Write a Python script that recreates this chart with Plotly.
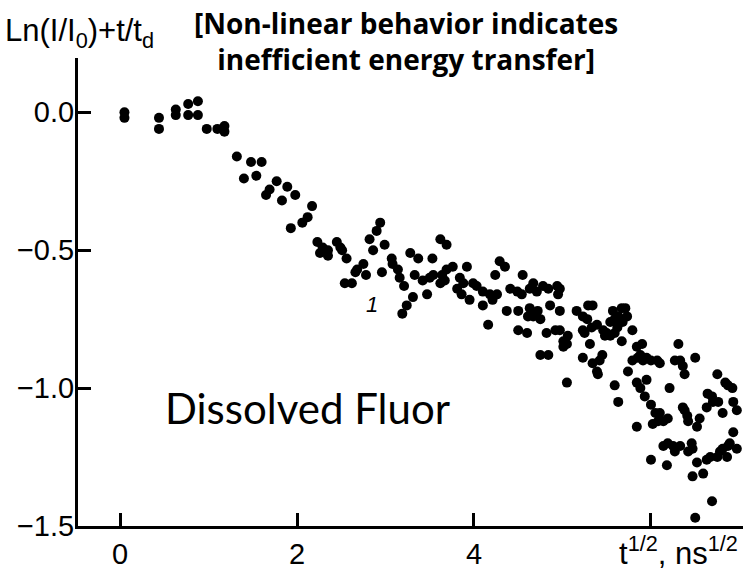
import plotly.graph_objects as go

# Fluorescence decay data: t^(1/2) (ns^1/2) vs Ln(I/I0)+t/td
t_sqrt = [
    0.05, 0.05, 0.44, 0.44, 0.63, 0.63, 0.77, 0.77, 0.88, 0.88,
    0.98, 1.10, 1.18, 1.18, 1.32, 1.48, 1.60, 1.40, 1.54, 1.77,
    1.89, 1.69, 1.65, 1.83, 1.98, 2.17, 2.12, 2.06, 1.93, 2.23,
    2.29, 2.35, 2.26, 2.35, 2.45, 2.51, 2.56, 2.49,
    2.68, 2.75, 2.78, 2.66, 2.54, 2.62, 2.82, 2.90, 2.94, 2.86,
    2.99, 3.07, 3.08, 2.96, 3.14, 3.16, 3.21, 3.28, 3.37, 3.33,
    3.42, 3.31, 3.24, 3.19, 3.47, 3.53, 3.62, 3.69, 3.54, 3.50,
    3.64, 3.69, 3.76, 3.62, 3.67, 3.92, 3.84, 3.88, 3.99, 4.03,
    3.81, 3.86, 3.95, 4.10, 4.18, 4.26, 4.10, 4.21, 4.16, 4.29,
    4.35, 4.24, 4.41, 4.49, 4.54, 4.55, 4.37, 4.50, 4.63, 4.67,
    4.71, 4.78, 4.84, 4.94, 4.95, 4.63, 4.61, 4.67, 4.72, 4.75,
    4.50, 4.60, 4.86, 4.97, 4.82, 4.92, 5.01, 5.06, 5.16, 5.23,
    5.29, 5.25, 4.75, 4.84, 5.01, 5.23,
    4.97, 4.97, 5.05, 5.05, 5.28, 5.34, 5.23, 5.31, 5.33, 5.39,
    5.46, 5.50, 5.54, 5.57, 5.59, 5.63, 5.67, 5.71, 5.73, 5.68,
    5.48, 5.54, 5.59, 5.62, 5.34, 5.39, 5.40, 5.45, 5.42, 5.79,
    5.67, 5.59, 5.63, 5.84, 5.90, 5.88, 5.85, 5.79, 5.74, 5.91,
    5.95, 6.00, 6.07, 6.10, 5.84, 5.88, 5.95, 5.93, 5.84, 6.00,
    6.05, 6.10, 6.02, 6.08, 6.14, 6.19, 6.21, 6.14, 6.19, 6.25,
    6.27, 6.00, 6.18, 6.31, 6.27, 6.33, 6.36, 6.38, 6.36, 6.38,
    6.41, 6.42, 6.50, 6.33, 6.42, 6.46, 6.47, 6.55, 6.52, 6.52,
    6.59, 6.47, 6.69, 6.50, 6.75, 6.64, 6.69, 6.63, 6.70, 6.76,
    6.81, 6.84, 6.87, 6.92, 6.93, 6.93, 6.89, 6.87, 6.81, 6.78,
    6.75, 6.67, 6.63, 6.86, 6.97, 6.97,
]
ln_ratio = [
    0.00, -0.02, -0.02, -0.06, 0.01, -0.01, 0.03, -0.01, 0.04, -0.01,
    -0.06, -0.06, -0.05, -0.07, -0.16, -0.18, -0.18, -0.24, -0.23, -0.25,
    -0.27, -0.28, -0.30, -0.32, -0.30, -0.34, -0.38, -0.40, -0.42, -0.47,
    -0.49, -0.50, -0.51, -0.52, -0.47, -0.50, -0.53, -0.49,
    -0.57, -0.55, -0.59, -0.58, -0.62, -0.62, -0.46, -0.43, -0.40, -0.50,
    -0.48, -0.53, -0.55, -0.58, -0.57, -0.60, -0.63, -0.51, -0.53, -0.59,
    -0.61, -0.67, -0.70, -0.73, -0.66, -0.53, -0.46, -0.48, -0.59, -0.60,
    -0.59, -0.57, -0.56, -0.62, -0.61, -0.56, -0.60, -0.62, -0.62, -0.63,
    -0.64, -0.66, -0.68, -0.65, -0.66, -0.66, -0.70, -0.68, -0.77, -0.54,
    -0.56, -0.59, -0.64, -0.65, -0.66, -0.59, -0.72, -0.72, -0.64, -0.62,
    -0.65, -0.63, -0.64, -0.63, -0.66, -0.71, -0.74, -0.74, -0.72, -0.75,
    -0.79, -0.80, -0.70, -0.72, -0.80, -0.79, -0.83, -0.81, -0.72, -0.74,
    -0.70, -0.80, -0.88, -0.88, -0.85, -0.89,
    -0.64, -0.79, -0.84, -0.98, -0.75, -0.70, -0.79, -0.84, -0.78, -0.77,
    -0.79, -0.80, -0.76, -0.72, -0.75, -0.74, -0.71, -0.71, -0.74, -0.76,
    -0.81, -0.81, -0.80, -0.78, -0.91, -0.94, -0.95, -0.88, -0.90, -0.79,
    -0.83, -0.99, -1.05, -0.85, -0.84, -0.88, -0.89, -0.90, -0.94, -0.90,
    -0.89, -0.90, -0.90, -0.91, -0.98, -1.00, -0.97, -1.03, -1.14, -1.06,
    -1.09, -1.09, -1.13, -1.12, -1.12, -1.11, -1.00, -1.21, -1.20, -1.21,
    -1.23, -1.26, -1.28, -0.84, -0.90, -0.90, -0.92, -0.95, -1.07, -1.08,
    -1.10, -1.12, -0.89, -1.21, -1.23, -1.20, -1.22, -1.11, -1.14, -1.27,
    -1.31, -1.32, -1.41, -1.47, -0.95, -1.02, -1.03, -1.07, -1.05, -1.05,
    -1.09, -0.98, -0.99, -1.00, -1.05, -1.16, -1.20, -1.21, -1.22, -1.23,
    -1.25, -1.25, -1.26, -1.25, -1.22, -1.08,
]

x_tickvals = [0, 2, 4, 6]
x_ticktext = ["0", "2", "4", ""]
y_tickvals = [0.0, -0.5, -1.0, -1.5]
y_ticktext = ["0.0", "\u22120.5", "\u22121.0", "\u22121.5"]

SANS = "Arial, 'Liberation Sans', sans-serif"

fig = go.Figure()
fig.add_trace(go.Scatter(
    x=t_sqrt, y=ln_ratio, mode="markers",
    marker=dict(color="black", size=10, line=dict(width=0)),
    showlegend=False, hoverinfo="skip",
))

tick_font = dict(family=SANS, size=29, color="black")

fig.update_xaxes(
    range=[-0.475, 7.04], showline=True, linecolor="black", linewidth=3,
    tickmode="array", tickvals=x_tickvals, ticktext=x_ticktext,
    ticks="inside", ticklen=13, tickwidth=2.5, tickcolor="black",
    showgrid=False, zeroline=False, tickfont=tick_font,
)
fig.update_yaxes(
    range=[-1.5, 0.197], showline=True, linecolor="black", linewidth=3,
    tickmode="array", tickvals=y_tickvals, ticktext=y_ticktext,
    ticks="inside", ticklen=13, tickwidth=2.5, tickcolor="black",
    ticklabelstandoff=-5,
    showgrid=False, zeroline=False, tickfont=tick_font,
)

annotations = [
    dict(text="Ln(I/I<sub>0</sub>)+t/t<sub>d</sub>", xref="paper", yref="paper",
         x=-0.113, y=1.053, xanchor="left", yanchor="middle", showarrow=False,
         font=dict(family=SANS, size=31, color="black")),
    dict(text="<b>[Non-linear behavior indicates<br>inefficient energy transfer]</b>",
         xref="paper", yref="paper", align="center",
         x=0.493, y=1.036, xanchor="center", yanchor="middle", showarrow=False,
         font=dict(family="Open Sans, sans-serif", size=28, color="black")),
    dict(text="Dissolved Fluor", xref="paper", yref="paper",
         x=0.1278, y=0.2516, xanchor="left", yanchor="middle", showarrow=False,
         font=dict(family="Lato, sans-serif", size=42, color="black")),
    dict(text="<i>1</i>", xref="x", yref="y", x=2.85, y=-0.696,
         xanchor="center", yanchor="middle", showarrow=False,
         font=dict(family=SANS, size=22, color="black")),
    dict(text="t<sup>1/2</sup>, ns<sup>1/2</sup>", xref="paper", yref="paper",
         x=0.9955, y=-0.053, xanchor="right", yanchor="middle", showarrow=False,
         font=dict(family=SANS, size=31, color="black")),
]

fig.update_layout(
    width=743, height=570,
    margin=dict(l=78, r=0, t=58, b=39),
    paper_bgcolor="white", plot_bgcolor="white",
    annotations=annotations,
)

fig.write_html("out.html")
